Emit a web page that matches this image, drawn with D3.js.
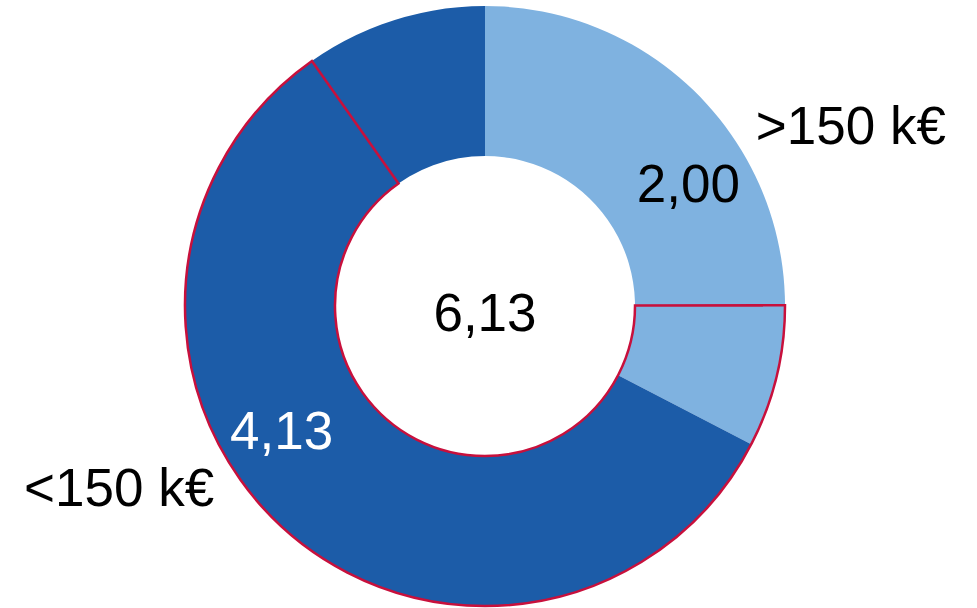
<!DOCTYPE html>
<html>
<head>
<meta charset="utf-8">
<script src="https://cdn.jsdelivr.net/npm/d3@7"></script>
<style>
  html, body { margin: 0; padding: 0; background: #fff; }
  text { font-family: "Liberation Sans", Arial, sans-serif; }
</style>
</head>
<body>
<svg width="977" height="608"></svg>
<script>
// data
const categories = [">150 k€", "<150 k€"];
const values = [2.00, 4.13];
// outlined share of each slice (end of first slice, start of second)
const highlighted = [0.47, 3.53];
const colors = ["#7FB2E0", "#1C5CA8"];
const labelColors = ["#000", "#fff"];

const width = 977, height = 608;
const cx = 485, cy = 306;
const outerR = 300, innerR = 150;

const fmt = d3.formatLocale({decimal: ",", thousands: ".", grouping: [3], currency: ["", " €"]}).format(".2f");

const svg = d3.select('svg');
const chart = svg.append('g').attr('transform', 'translate(' + cx + ',' + cy + ')');

const total = d3.sum(values);
const angle = d3.scaleLinear().domain([0, total]).range([0, 2 * Math.PI]);

const pie = d3.pie().sort(null).value(d => d)(values);
const arc = d3.arc().innerRadius(innerR).outerRadius(outerR);

chart.selectAll('path.slice')
    .data(pie).enter()
    .append('path')
    .attr('class', 'slice')
    .attr('fill', (d, i) => colors[i])
    .attr('d', arc);

// outlined part
const hlStart = values[0] - highlighted[0];
const hlEnd = values[0] + highlighted[1];
chart.append('path')
    .attr('fill', 'none')
    .attr('stroke', '#C8103C')
    .attr('stroke-width', 2.5)
    .attr('stroke-linejoin', 'miter')
    .attr('d', arc({startAngle: angle(hlStart), endAngle: angle(hlEnd)}));

// value labels
const valR = 238;
chart.selectAll('text.val')
    .data(pie).enter()
    .append('text')
    .attr('class', 'val')
    .attr('x', d => valR * Math.sin((d.startAngle + d.endAngle) / 2))
    .attr('y', d => -valR * Math.cos((d.startAngle + d.endAngle) / 2))
    .attr('dy', '0.36em')
    .attr('text-anchor', 'middle')
    .attr('font-size', 53)
    .attr('fill', (d, i) => labelColors[i])
    .text(d => fmt(d.data));

// category labels
const catR = 408, catShift = 5 * Math.PI / 180;
chart.selectAll('text.cat')
    .data(pie).enter()
    .append('text')
    .attr('class', 'cat')
    .attr('x', d => catR * Math.sin((d.startAngle + d.endAngle) / 2 + catShift))
    .attr('y', d => -catR * Math.cos((d.startAngle + d.endAngle) / 2 + catShift))
    .attr('dy', '0.36em')
    .attr('text-anchor', 'middle')
    .attr('font-size', 53)
    .attr('fill', '#000')
    .text((d, i) => categories[i]);

// total in the middle
chart.append('text')
    .attr('x', 0)
    .attr('y', 6)
    .attr('dy', '0.36em')
    .attr('text-anchor', 'middle')
    .attr('font-size', 53)
    .attr('fill', '#000')
    .text(fmt(total));
</script>
</body>
</html>
